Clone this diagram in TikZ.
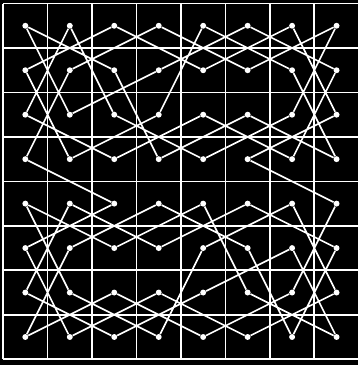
\documentclass[tikz,border=0pt]{standalone}
\usepackage{tikz}

\begin{document}
\begin{tikzpicture}[
    x=1cm,y=1cm,
    board/.style={white, line width=1.1pt},
    tour/.style={white, line width=1.05pt, line join=round},
    feld/.style={circle, fill=white, inner sep=0pt, minimum size=3.8pt}
  ]
    % Hintergrund
    \fill[black] (-0.07,-0.13) rectangle (7.99,8.08);
    \useasboundingbox (-0.07,-0.13) rectangle (7.99,8.08);

    % Brett
    \draw[board] (0,0) grid (8,8);

    % Feldmitten (Spalte, Zeile von oben)
    \foreach \c in {0,...,7} {
      \foreach \r in {0,...,7} {
        \node[feld] (f\c\r) at (\c+0.5,7.5-\r) {};
      }
    }

    % Springerweg, obere Hälfte
    \draw[tour] (f03) -- (f11) -- (f30) -- (f51) -- (f70) -- (f62) -- (f43) -- (f22)
      -- (f10) -- (f02) -- (f23) -- (f42) -- (f63) -- (f71) -- (f50) -- (f31)
      -- (f12) -- (f00) -- (f21) -- (f33) -- (f52) -- (f73) -- (f61) -- (f40)
      -- (f32) -- (f13) -- (f01) -- (f20) -- (f41) -- (f60) -- (f72) -- (f53)
    % untere Hälfte
      -- (f74) -- (f66) -- (f47) -- (f26) -- (f07) -- (f15) -- (f34) -- (f55)
      -- (f67) -- (f75) -- (f54) -- (f35) -- (f14) -- (f06) -- (f27) -- (f46)
      -- (f65) -- (f77) -- (f56) -- (f44) -- (f25) -- (f04) -- (f16) -- (f37)
      -- (f45) -- (f64) -- (f76) -- (f57) -- (f36) -- (f17) -- (f05) -- (f24)
      -- (f03);
  \end{tikzpicture}
\end{document}
